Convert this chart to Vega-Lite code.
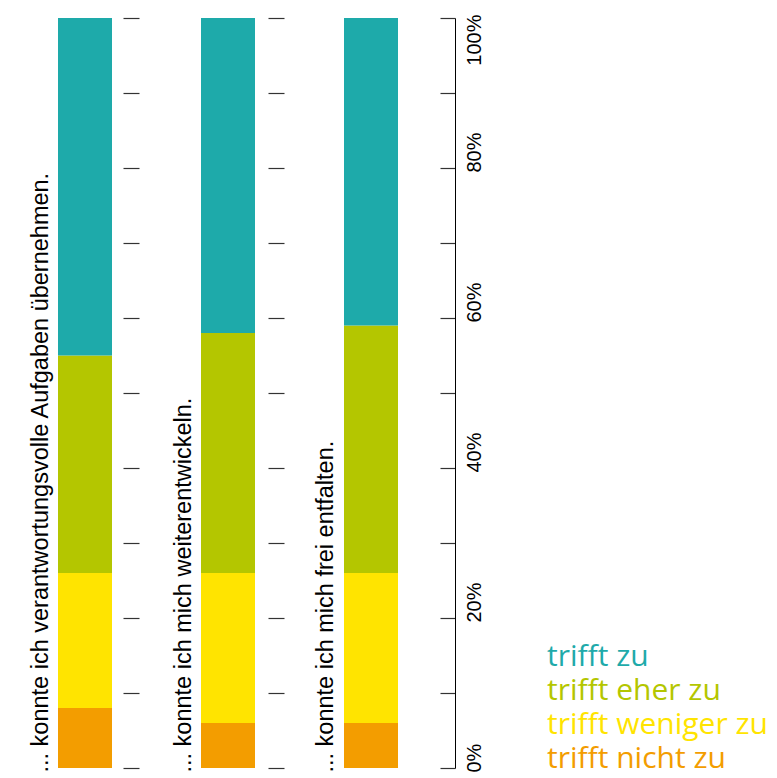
{
  "$schema": "https://vega.github.io/schema/vega-lite/v6.json",
  "background": "white",
  "padding": {"left": 27, "top": 13, "right": 5, "bottom": 5},
  "bounds": "flush",
  "spacing": 89,
  "config": {"view": {"stroke": null}, "font": "Liberation Sans", "axis": {"grid": false}},
  "datasets": {
    "umfrage": [
      {"frage": "verantwortung", "antwort": "trifft nicht zu", "ordnung": 1, "anteil": 8},
      {"frage": "verantwortung", "antwort": "trifft weniger zu", "ordnung": 2, "anteil": 18},
      {"frage": "verantwortung", "antwort": "trifft eher zu", "ordnung": 3, "anteil": 29},
      {"frage": "verantwortung", "antwort": "trifft zu", "ordnung": 4, "anteil": 45},
      {"frage": "weiterentwickeln", "antwort": "trifft nicht zu", "ordnung": 1, "anteil": 6},
      {"frage": "weiterentwickeln", "antwort": "trifft weniger zu", "ordnung": 2, "anteil": 20},
      {"frage": "weiterentwickeln", "antwort": "trifft eher zu", "ordnung": 3, "anteil": 32},
      {"frage": "weiterentwickeln", "antwort": "trifft zu", "ordnung": 4, "anteil": 42},
      {"frage": "entfalten", "antwort": "trifft nicht zu", "ordnung": 1, "anteil": 6},
      {"frage": "entfalten", "antwort": "trifft weniger zu", "ordnung": 2, "anteil": 20},
      {"frage": "entfalten", "antwort": "trifft eher zu", "ordnung": 3, "anteil": 33},
      {"frage": "entfalten", "antwort": "trifft zu", "ordnung": 4, "anteil": 41}
    ]
  },
  "hconcat": [
    {
      "width": 54, "height": 750,
      "data": {"name": "umfrage"},
      "transform": [{"filter": "datum.frage == 'verantwortung'"}],
      "mark": {"type": "bar"},
      "encoding": {
        "x": {"field": "frage", "type": "nominal", "scale": {"paddingInner": 0, "paddingOuter": 0}, "axis": null},
        "y": {"field": "anteil", "type": "quantitative", "stack": "normalize",
          "scale": {"domain": [0, 1], "nice": false},
          "axis": {"orient": "right", "offset": 27, "domain": false, "labels": false,
            "tickSize": -16, "tickColor": "#333", "tickWidth": 1.2,
            "values": [0, 0.1, 0.2, 0.3, 0.4, 0.5, 0.6, 0.7, 0.8, 0.9, 1],
            "title": "... konnte ich verantwortungsvolle Aufgaben übernehmen.",
            "titleAngle": 270, "titleAlign": "left", "titleBaseline": "alphabetic",
            "titleX": -92, "titleY": 754, "titleFont": "Liberation Sans", "titleFontSize": 23.5,
            "titleFontWeight": "normal", "titleColor": "black"}},
        "color": {"field": "antwort", "type": "nominal",
          "scale": {"domain": ["trifft zu", "trifft eher zu", "trifft weniger zu", "trifft nicht zu"],
            "range": ["#1eaaaa", "#b4c600", "#ffe400", "#f39d00"]},
          "legend": {"orient": "none", "legendX": 459, "legendY": 624, "title": null,
            "symbolSize": 0, "symbolOpacity": 0, "symbolStrokeWidth": 0, "labelOffset": 0,
            "labelFont": "Open Sans", "labelFontSize": 30, "rowPadding": 4, "labelLimit": 0, "padding": 0,
            "encode": {"labels": {"update": {"fill": {"scale": "color", "field": "value"}}}}}},
        "order": {"field": "ordnung", "type": "quantitative"}
      }
    },
    {
      "width": 54, "height": 750,
      "data": {"name": "umfrage"},
      "transform": [{"filter": "datum.frage == 'weiterentwickeln'"}],
      "mark": {"type": "bar"},
      "encoding": {
        "x": {"field": "frage", "type": "nominal", "scale": {"paddingInner": 0, "paddingOuter": 0}, "axis": null},
        "y": {"field": "anteil", "type": "quantitative", "stack": "normalize",
          "scale": {"domain": [0, 1], "nice": false},
          "axis": {"orient": "right", "offset": 29, "domain": false, "labels": false,
            "tickSize": -16, "tickColor": "#333", "tickWidth": 1.2,
            "values": [0, 0.1, 0.2, 0.3, 0.4, 0.5, 0.6, 0.7, 0.8, 0.9, 1],
            "title": "... konnte ich mich weiterentwickeln.",
            "titleAngle": 270, "titleAlign": "left", "titleBaseline": "alphabetic",
            "titleX": -94, "titleY": 754, "titleFont": "Liberation Sans", "titleFontSize": 23.5,
            "titleFontWeight": "normal", "titleColor": "black"}},
        "color": {"field": "antwort", "type": "nominal",
          "scale": {"domain": ["trifft zu", "trifft eher zu", "trifft weniger zu", "trifft nicht zu"],
            "range": ["#1eaaaa", "#b4c600", "#ffe400", "#f39d00"]},
          "legend": {"orient": "none", "legendX": 459, "legendY": 624, "title": null,
            "symbolSize": 0, "symbolOpacity": 0, "symbolStrokeWidth": 0, "labelOffset": 0,
            "labelFont": "Open Sans", "labelFontSize": 30, "rowPadding": 4, "labelLimit": 0, "padding": 0,
            "encode": {"labels": {"update": {"fill": {"scale": "color", "field": "value"}}}}}},
        "order": {"field": "ordnung", "type": "quantitative"}
      }
    },
    {
      "width": 54, "height": 750,
      "data": {"name": "umfrage"},
      "transform": [{"filter": "datum.frage == 'entfalten'"}],
      "mark": {"type": "bar"},
      "encoding": {
        "x": {"field": "frage", "type": "nominal", "scale": {"paddingInner": 0, "paddingOuter": 0}, "axis": null},
        "y": {"field": "anteil", "type": "quantitative", "stack": "normalize",
          "scale": {"domain": [0, 1], "nice": false},
          "axis": {"orient": "right", "offset": 57, "domain": true, "domainColor": "black", "domainWidth": 1,
            "tickSize": -15, "tickColor": "#333", "tickWidth": 1.2,
            "values": [0, 0.1, 0.2, 0.3, 0.4, 0.5, 0.6, 0.7, 0.8, 0.9, 1],
            "labelExpr": "round(datum.value * 10) % 2 == 0 ? format(datum.value, '.0%') : ''",
            "labelAngle": 270,
            "labelAlign": {"condition": {"test": "datum.value >= 1", "value": "right"}, "value": "left"},
            "labelOffset": {"condition": {"test": "datum.value >= 1", "value": -4}, "value": 4},
            "labelBaseline": "top", "labelPadding": 24, "labelFontSize": 20, "labelColor": "black",
            "labelFont": "Liberation Sans", "labelOverlap": false, "labelBound": false, "labelFlush": false,
            "title": "... konnte ich mich frei entfalten.",
            "titleAngle": 270, "titleAlign": "left", "titleBaseline": "alphabetic",
            "titleX": -123, "titleY": 754, "titleFont": "Liberation Sans", "titleFontSize": 23.5,
            "titleFontWeight": "normal", "titleColor": "black"}},
        "color": {"field": "antwort", "type": "nominal",
          "scale": {"domain": ["trifft zu", "trifft eher zu", "trifft weniger zu", "trifft nicht zu"],
            "range": ["#1eaaaa", "#b4c600", "#ffe400", "#f39d00"]},
          "legend": {"orient": "none", "legendX": 459, "legendY": 624, "title": null,
            "symbolSize": 0, "symbolOpacity": 0, "symbolStrokeWidth": 0, "labelOffset": 0,
            "labelFont": "Open Sans", "labelFontSize": 30, "rowPadding": 4, "labelLimit": 0, "padding": 0,
            "encode": {"labels": {"update": {"fill": {"scale": "color", "field": "value"}}}}}},
        "order": {"field": "ordnung", "type": "quantitative"}
      }
    }
  ]
}
